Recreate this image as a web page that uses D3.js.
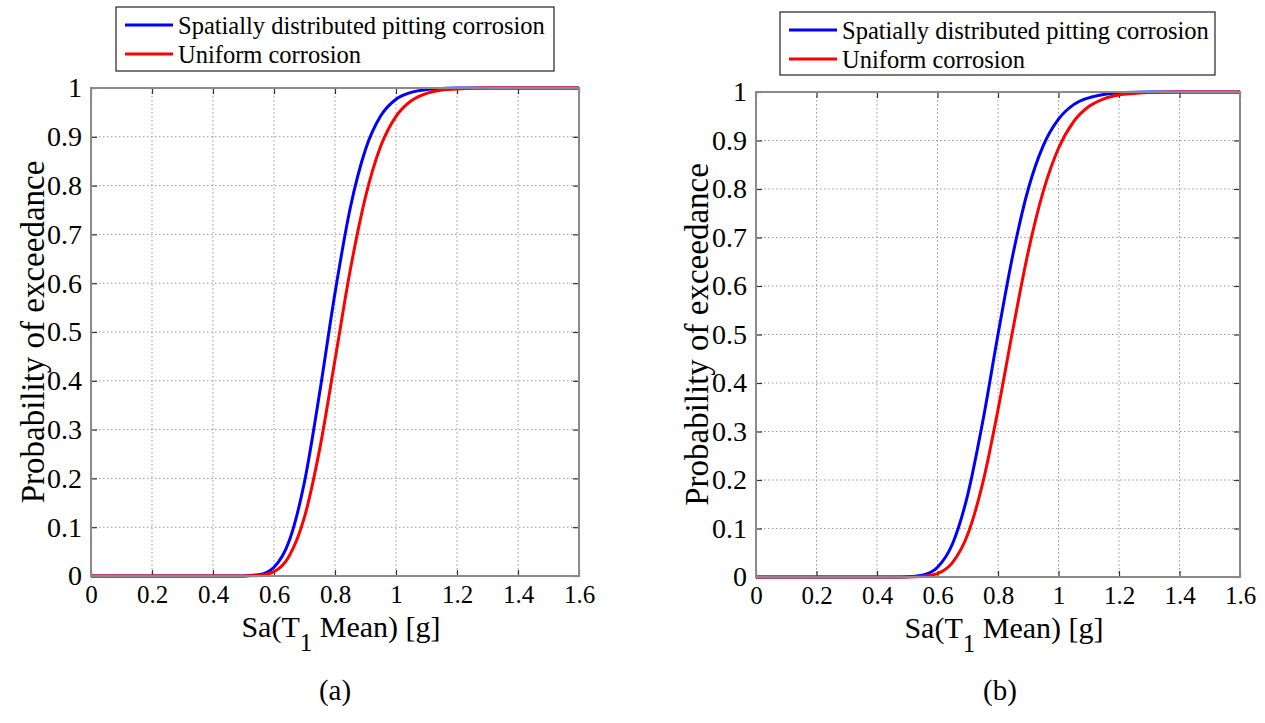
<!DOCTYPE html>
<html>
<head>
<meta charset="utf-8">
<script src="https://cdn.jsdelivr.net/npm/d3@7/dist/d3.min.js"></script>
<style>
  html, body { margin: 0; padding: 0; background: #fff; }
  svg { display: block; }
  svg text { font-family: "Liberation Serif", "Times New Roman", serif !important; }
</style>
</head>
<body>
<svg id="chart" width="1265" height="723"></svg>
<script>
// ---- data ----
const seriesNames = ["Spatially distributed pitting corrosion", "Uniform corrosion"];
const seriesColors = ["#0000ff", "#ff0000"];
const xTicks = [0, 0.2, 0.4, 0.6, 0.8, 1, 1.2, 1.4, 1.6];
const yTicks = [0, 0.1, 0.2, 0.3, 0.4, 0.5, 0.6, 0.7, 0.8, 0.9, 1];
const xTickLabels = ["0", "0.2", "0.4", "0.6", "0.8", "1", "1.2", "1.4", "1.6"];
const yTickLabels = ["0", "0.1", "0.2", "0.3", "0.4", "0.5", "0.6", "0.7", "0.8", "0.9", "1"];
const saValues = [0, 0.45, 0.50, 0.55, 0.60, 0.65, 0.70, 0.75, 0.80, 0.85, 0.90, 0.95, 1.00, 1.05, 1.10, 1.15, 1.20, 1.25, 1.30, 1.40, 1.60];
const pittingA = [0, 0, 0.0002, 0.0026, 0.018, 0.072, 0.193, 0.377, 0.580, 0.754, 0.874, 0.943, 0.977, 0.991, 0.997, 0.999, 1, 1, 1, 1, 1];
const uniformA = [0, 0, 0.0001, 0.0012, 0.009, 0.041, 0.121, 0.261, 0.443, 0.627, 0.777, 0.881, 0.942, 0.974, 0.989, 0.996, 0.998, 0.9995, 1, 1, 1];
const pittingB = [0, 0, 0.0004, 0.0037, 0.020, 0.069, 0.170, 0.322, 0.500, 0.667, 0.800, 0.890, 0.944, 0.974, 0.988, 0.995, 0.998, 0.9995, 1, 1, 1];
const uniformB = [0, 0, 0.0001, 0.001, 0.007, 0.030, 0.088, 0.195, 0.345, 0.513, 0.671, 0.796, 0.884, 0.939, 0.970, 0.986, 0.994, 0.997, 0.999, 1, 1];
const panelCaptions = ["(a)", "(b)"];
const xLabelMain = "Sa(T";
const xLabelSub = "1";
const xLabelRest = " Mean) [g]";
const yLabel = "Probability of exceedance";

// ---- layout ----
const panels = [
  { x0: 91, x1: 579, y0: 88, y1: 576, series: [pittingA, uniformA], caption: panelCaptions[0],
    legend: { x: 116, y: 7, w: 438, h: 64, row1: 25, row2: 54 }, yLabX: 33, capX: 335 },
  { x0: 756, x1: 1240, y0: 92, y1: 577, series: [pittingB, uniformB], caption: panelCaptions[1],
    legend: { x: 780, y: 12, w: 435, h: 63, row1: 30, row2: 59 }, yLabX: 697, capX: 1000 }
];

const svg = d3.select("#chart");

panels.forEach(p => {
  const g = svg.append("g");
  const x = d3.scaleLinear().domain([0, 1.6]).range([p.x0, p.x1]);
  const y = d3.scaleLinear().domain([0, 1]).range([p.y1, p.y0]);

  // grid
  g.append("g").selectAll("line").data(xTicks.slice(1, -1)).join("line")
    .attr("x1", d => x(d)).attr("x2", d => x(d)).attr("y1", p.y0).attr("y2", p.y1)
    .attr("stroke", "#9a9a9a").attr("stroke-width", 1).attr("stroke-dasharray", "1.5,2.5");
  g.append("g").selectAll("line").data(yTicks.slice(1, -1)).join("line")
    .attr("y1", d => y(d)).attr("y2", d => y(d)).attr("x1", p.x0).attr("x2", p.x1)
    .attr("stroke", "#9a9a9a").attr("stroke-width", 1).attr("stroke-dasharray", "1.5,2.5");

  // axes (ticks inside)
  const tk = 6;
  const axB = d3.axisBottom(x).tickValues(xTicks).tickFormat((d, i) => xTickLabels[i]).tickSizeInner(-tk).tickSizeOuter(0).tickPadding(tk + 3);
  const axL = d3.axisLeft(y).tickValues(yTicks).tickFormat((d, i) => yTickLabels[i]).tickSizeInner(-tk).tickSizeOuter(0).tickPadding(tk + 3);
  const axT = d3.axisTop(x).tickValues(xTicks).tickFormat("").tickSizeInner(-tk).tickSizeOuter(0);
  const axR = d3.axisRight(y).tickValues(yTicks).tickFormat("").tickSizeInner(-tk).tickSizeOuter(0);

  const styleAxis = (sel, fs) => {
    sel.select(".domain").remove();
    sel.selectAll(".tick line").attr("stroke", "#333").attr("stroke-width", 1.2);
    sel.selectAll(".tick text").attr("fill", "#000").attr("font-size", fs);
  };
  g.append("g").attr("transform", `translate(0,${p.y1})`).call(axB).call(styleAxis, 25);
  g.append("g").attr("transform", `translate(${p.x0},0)`).call(axL).call(styleAxis, 28);
  g.append("g").attr("transform", `translate(0,${p.y0})`).call(axT).call(styleAxis, 25);
  g.append("g").attr("transform", `translate(${p.x1},0)`).call(axR).call(styleAxis, 25);

  // curves
  const line = d3.line().x((d, i) => x(saValues[i])).y(d => y(d)).curve(d3.curveMonotoneX);
  p.series.forEach((s, k) => {
    g.append("path").datum(s).attr("d", line).attr("fill", "none")
      .attr("stroke", seriesColors[k]).attr("stroke-width", 3).attr("stroke-linejoin", "round");
  });

  // frame
  g.append("rect").attr("x", p.x0).attr("y", p.y0).attr("width", p.x1 - p.x0).attr("height", p.y1 - p.y0)
    .attr("fill", "none").attr("stroke", "#8a8a8a").attr("stroke-width", 2);

  // axis labels
  const xl = g.append("text").attr("x", (p.x0 + p.x1) / 2 + 6).attr("y", p.y1 + 61)
    .attr("text-anchor", "middle").attr("font-size", 30).attr("fill", "#000");
  xl.append("tspan").text(xLabelMain);
  xl.append("tspan").text(xLabelSub).attr("dy", 14).attr("font-size", 25);
  xl.append("tspan").text(xLabelRest).attr("dy", -14);

  g.append("text").attr("transform", `translate(${p.yLabX},${(p.y0 + p.y1) / 2}) rotate(-90)`)
    .attr("text-anchor", "middle").attr("dominant-baseline", "central")
    .attr("font-size", 33).attr("fill", "#000").text(yLabel);

  // legend
  const L = p.legend;
  const lg = g.append("g");
  lg.append("rect").attr("x", L.x).attr("y", L.y).attr("width", L.w).attr("height", L.h)
    .attr("fill", "#fff").attr("stroke", "#222").attr("stroke-width", 1.2);
  [L.row1, L.row2].forEach((ry, k) => {
    lg.append("line").attr("x1", L.x + 9).attr("x2", L.x + 57).attr("y1", ry).attr("y2", ry)
      .attr("stroke", seriesColors[k]).attr("stroke-width", 3);
    lg.append("text").attr("x", L.x + 62).attr("y", ry).attr("dominant-baseline", "central")
      .attr("font-size", 24.5).attr("fill", "#000").text(seriesNames[k]);
  });

  // caption
  g.append("text").attr("x", p.capX).attr("y", 690).attr("text-anchor", "middle")
    .attr("dominant-baseline", "central").attr("font-size", 29).attr("fill", "#000").text(p.caption);
});
</script>
</body>
</html>
